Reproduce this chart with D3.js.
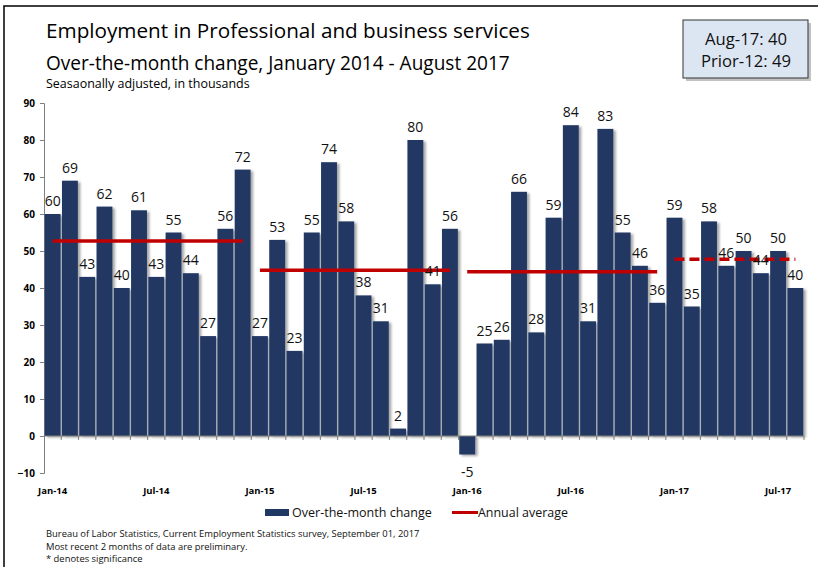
<!DOCTYPE html>
<html><head><meta charset="utf-8">
<script src="https://cdn.jsdelivr.net/npm/d3@7"></script>
<style>body{margin:0;background:#fff}svg{display:block}</style>
</head><body>
<svg id="c" width="818" height="567"></svg>
<script>
const months = ["Jan-14","Feb-14","Mar-14","Apr-14","May-14","Jun-14","Jul-14","Aug-14","Sep-14","Oct-14","Nov-14","Dec-14",
"Jan-15","Feb-15","Mar-15","Apr-15","May-15","Jun-15","Jul-15","Aug-15","Sep-15","Oct-15","Nov-15","Dec-15",
"Jan-16","Feb-16","Mar-16","Apr-16","May-16","Jun-16","Jul-16","Aug-16","Sep-16","Oct-16","Nov-16","Dec-16",
"Jan-17","Feb-17","Mar-17","Apr-17","May-17","Jun-17","Jul-17","Aug-17"];
const changes = [60,69,43,62,40,61,43,55,44,27,56,72,
27,53,23,55,74,58,38,31,2,80,41,56,
-5,25,26,66,28,59,84,31,83,55,46,36,
59,35,58,46,50,44,50,40];
const years = ["14","15","16","17"];
const annualAvg = [52.7,44.8,44.4,47.8];
const dashedYears = ["17"];
const xTickLabels = ["Jan-14","Jul-14","Jan-15","Jul-15","Jan-16","Jul-16","Jan-17","Jul-17"];
const yTicks = [-10,0,10,20,30,40,50,60,70,80,90];
const titleText = "Employment in Professional and business services";
const subtitleText = "Over-the-month change, January 2014 - August 2017";
const noteText = "Seasaonally adjusted, in thousands";
const boxLines = ["Aug-17: 40","Prior-12: 49"];
const legendItems = ["Over-the-month change","Annual average"];
const footnotes = ["Bureau of Labor Statistics, Current Employment Statistics survey, September 01, 2017",
"Most recent 2 months of data are preliminary.","* denotes significance"];

const svg = d3.select("#c");
const F = "'Open Sans', sans-serif";
const navy = "#203864", red = "#c00000", axisCol = "#808080";

function fit(sel, w){
  const cur = sel.node().getComputedTextLength();
  const fs = parseFloat(sel.attr("font-size"));
  sel.attr("font-size", fs*w/cur);
  return sel;
}

// frame
svg.append("path").attr("d","M4,567 V6 H818").attr("fill","none").attr("stroke","#000").attr("stroke-width",1.5);

const defs = svg.append("defs");
const flt = defs.append("filter").attr("id","sh").attr("x","-20%").attr("y","-20%").attr("width","150%").attr("height","150%");
flt.append("feDropShadow").attr("dx",2.5).attr("dy",1.5).attr("stdDeviation",1).attr("flood-color","#000").attr("flood-opacity",0.35);

const x = d3.scaleBand().domain(months).range([44,804]).paddingInner(0.08).paddingOuter(0.04);
const y = d3.scaleLinear().domain([-10,90]).range([473,103]);

// y axis
const yAxis = svg.append("g").attr("transform","translate(44,0)")
  .call(d3.axisLeft(y).tickValues(yTicks).tickSize(4).tickPadding(5).tickFormat(d3.format("d")));
yAxis.select(".domain").attr("stroke",axisCol);
yAxis.selectAll(".tick line").attr("stroke",axisCol);
yAxis.selectAll("text").attr("font-family",F).attr("font-weight","bold").attr("font-size",10).attr("fill","#000");

// bars
svg.append("g").attr("filter","url(#sh)").selectAll("rect").data(months).join("rect")
  .attr("x",d=>x(d)).attr("width",x.bandwidth())
  .attr("y",(d,i)=>y(Math.max(0,changes[i])))
  .attr("height",(d,i)=>Math.abs(y(changes[i])-y(0)))
  .attr("fill",navy);

// x axis
const step = x.step(), gap = step - x.bandwidth();
const xAxisG = svg.append("g");
xAxisG.append("line").attr("x1",44).attr("x2",804).attr("y1",y(0)).attr("y2",y(0)).attr("stroke",axisCol);
xAxisG.selectAll("line.t").data(months).join("line").attr("class","t")
  .attr("x1",d=>x(d)+x.bandwidth()+gap/2).attr("x2",d=>x(d)+x.bandwidth()+gap/2)
  .attr("y1",y(0)).attr("y2",y(0)+4).attr("stroke",axisCol);
xAxisG.selectAll("text").data(xTickLabels).join("text")
  .attr("x",d=>x(d)+x.bandwidth()/2).attr("y",494).attr("text-anchor","middle")
  .attr("font-family",F).attr("font-weight","bold").attr("font-size",9.5).text(d=>d);

// annual averages
years.forEach((yr,k)=>{
  const ms = months.filter(m=>m.endsWith("-"+yr));
  svg.append("line")
    .attr("x1",x(ms[0])+x.bandwidth()/2).attr("x2",x(ms[ms.length-1])+x.bandwidth()/2)
    .attr("y1",y(annualAvg[k])).attr("y2",y(annualAvg[k]))
    .attr("stroke",red).attr("stroke-width",3.5)
    .attr("stroke-dasharray",dashedYears.includes(yr)?"10,5":null);
});

// value labels
svg.append("g").selectAll("text").data(months).join("text")
  .attr("x",d=>x(d)+x.bandwidth()/2)
  .attr("y",(d,i)=>changes[i]>=0 ? y(changes[i])-8 : y(changes[i])+22)
  .attr("text-anchor","middle").attr("font-family",F).attr("font-size",14).attr("fill","#111")
  .text((d,i)=>changes[i]);

// titles
fit(svg.append("text").attr("x",46).attr("y",38).attr("font-family",F).attr("font-size",20).attr("fill","#000").text(titleText),484);
fit(svg.append("text").attr("x",46).attr("y",70).attr("font-family",F).attr("font-size",18).attr("fill","#000").text(subtitleText),464);
fit(svg.append("text").attr("x",46).attr("y",88).attr("font-family",F).attr("font-size",12).attr("fill","#000").text(noteText),204);

// box
svg.append("rect").attr("x",686).attr("y",23).attr("width",125).attr("height",58).attr("fill","#999").attr("opacity",0.6);
svg.append("rect").attr("x",683).attr("y",20).attr("width",125).attr("height",58).attr("fill","#dce6f2").attr("stroke","#333").attr("stroke-width",1);
fit(svg.append("text").attr("x",746).attr("y",45).attr("text-anchor","middle").attr("font-family",F).attr("font-size",15).attr("fill","#111").text(boxLines[0]),82);
fit(svg.append("text").attr("x",746).attr("y",67).attr("text-anchor","middle").attr("font-family",F).attr("font-size",15).attr("fill","#111").text(boxLines[1]),90);

// legend
svg.append("rect").attr("x",265).attr("y",509).attr("width",24).attr("height",7).attr("fill",navy);
fit(svg.append("text").attr("x",292).attr("y",517).attr("font-family",F).attr("font-size",13).attr("fill","#111").text(legendItems[0]),140);
svg.append("line").attr("x1",452).attr("x2",478).attr("y1",512.5).attr("y2",512.5).attr("stroke",red).attr("stroke-width",3);
fit(svg.append("text").attr("x",478).attr("y",517).attr("font-family",F).attr("font-size",13).attr("fill","#111").text(legendItems[1]),90);

// footnotes
const fy = [537,549.5,562];
const fn = svg.append("g").selectAll("text").data(footnotes).join("text")
  .attr("x",46).attr("y",(d,i)=>fy[i]).attr("font-family",F).attr("font-size",9).attr("fill","#111").text(d=>d);
const ratio = 374 / fn.nodes()[0].getComputedTextLength();
fn.attr("font-size",9*ratio);
</script>
</body></html>
